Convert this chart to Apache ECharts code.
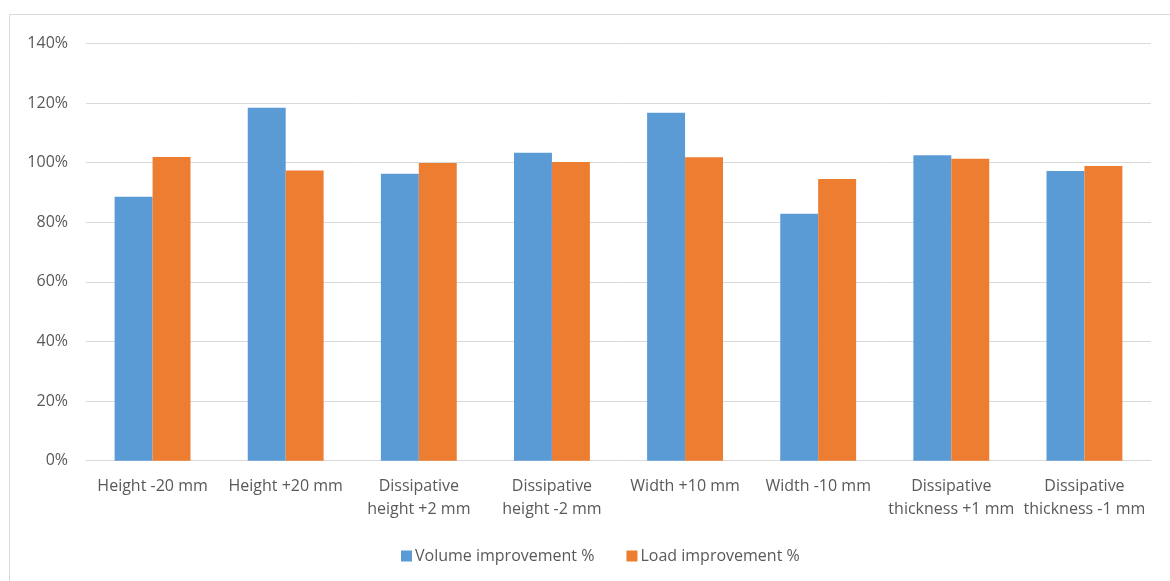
<!DOCTYPE html>
<html>
<head>
<meta charset="utf-8">
<script src="https://cdn.jsdelivr.net/npm/echarts@6/dist/echarts.min.js"></script>
<style>
  html, body { margin: 0; padding: 0; background: #fff; }
  #chart { width: 1170px; height: 581px; }
</style>
</head>
<body>
<div id="chart"></div>
<script>
// Design variants and their improvement ratios (percent)
const categories = [
  'Height -20 mm',
  'Height +20 mm',
  'Dissipative\nheight +2 mm',
  'Dissipative\nheight -2 mm',
  'Width +10 mm',
  'Width -10 mm',
  'Dissipative\nthickness +1 mm',
  'Dissipative\nthickness -1 mm'
];
const volumeImprovement = [88.6, 118.4, 96.3, 103.3, 116.8, 82.9, 102.5, 97.2];
const loadImprovement = [101.9, 97.4, 99.9, 100.2, 101.8, 94.5, 101.3, 98.9];
const seriesNames = ['Volume improvement %', 'Load improvement %'];
const yTicks = { min: 0, max: 140, interval: 20 };

const FONT = '"Open Sans", "Liberation Sans", sans-serif';
const TEXT = '#595959';
const LINE = '#d9d9d9';

const chart = echarts.init(document.getElementById('chart'), null, { renderer: 'canvas' });
chart.setOption({
  backgroundColor: '#ffffff',
  animation: false,
  textStyle: { fontFamily: FONT },
  graphic: [{
    type: 'rect',
    shape: { x: 9.5, y: 14.5, width: 1200, height: 600 },
    style: { fill: 'none', stroke: LINE, lineWidth: 1 },
    silent: true,
    z: -10
  }],
  grid: { left: 86, right: 19, top: 43.5, bottom: 120.3 },
  legend: {
    left: 396,
    top: 543,
    itemWidth: 11,
    itemHeight: 11,
    itemGap: 32,
    icon: 'rect',
    textStyle: { fontFamily: FONT, fontSize: 16, color: TEXT, padding: [0, 0, 0, -2] },
    data: seriesNames
  },
  xAxis: {
    type: 'category',
    data: categories,
    axisLine: { lineStyle: { color: LINE, width: 1 } },
    axisTick: { show: false },
    axisLabel: { fontFamily: FONT, fontSize: 16, color: TEXT, margin: 14, lineHeight: 23, interval: 0 }
  },
  yAxis: {
    type: 'value',
    min: yTicks.min,
    max: yTicks.max,
    interval: yTicks.interval,
    axisLine: { show: false },
    axisTick: { show: false },
    splitLine: { lineStyle: { color: LINE, width: 1 } },
    axisLabel: { fontFamily: FONT, fontSize: 16, color: TEXT, margin: 18, formatter: '{value}%' }
  },
  series: [
    {
      name: seriesNames[0],
      type: 'bar',
      data: volumeImprovement,
      barGap: '0%',
      barCategoryGap: '43%',
      itemStyle: { color: '#5B9BD5' }
    },
    {
      name: seriesNames[1],
      type: 'bar',
      data: loadImprovement,
      barGap: '0%',
      barCategoryGap: '43%',
      itemStyle: { color: '#ED7D31' }
    }
  ]
});
</script>
</body>
</html>
